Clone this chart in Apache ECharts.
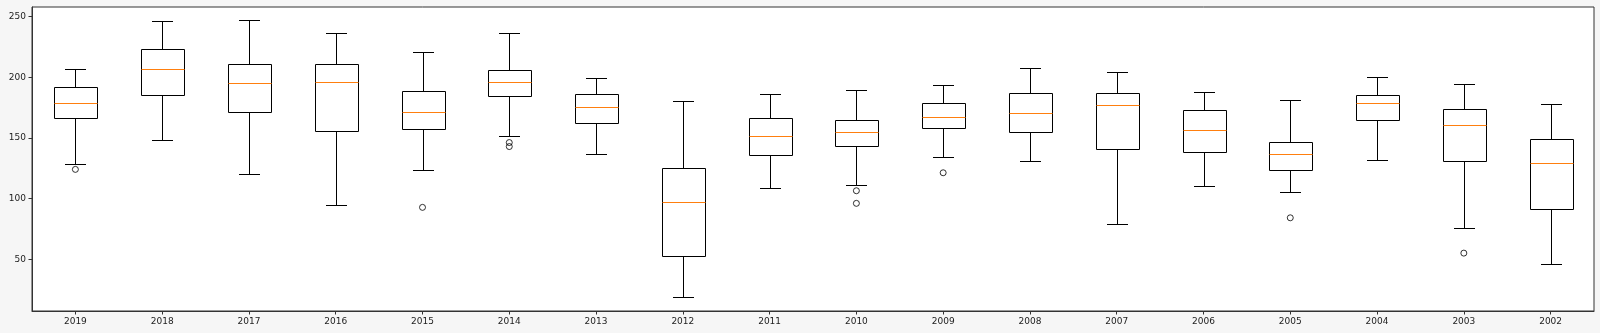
<!DOCTYPE html>
<html>
<head>
<meta charset="utf-8">
<script src="https://cdn.jsdelivr.net/npm/echarts@6/dist/echarts.min.js"></script>
<style>
html,body{margin:0;padding:0;background:#f6f6f6;}
#chart{width:1600px;height:333px;}
</style>
</head>
<body>
<div id="chart"></div>
<script>
const categories = ['2019','2018','2017','2016','2015','2014','2013','2012','2011','2010','2009','2008','2007','2006','2005','2004','2003','2002'];
const whiskerLow  = [128.8,148.1,120.1, 94.6,123.6,151.4,136.6, 19.2,109.1,111.5,134.4,131.3, 79.1,110.7,105.3,132.1, 75.8, 45.9];
const q1          = [166.3,185.2,171.2,155.8,157.4,184.4,162.1, 52.8,136.0,143.2,158.3,155.2,140.7,138.2,123.6,164.6,131.3, 91.3];
const median      = [179.1,206.9,195.4,196.2,171.2,195.9,175.3, 97.5,151.4,155.2,167.6,170.6,177.5,156.9,136.6,179.1,160.7,129.2];
const q3          = [191.8,223.6,211.3,210.8,188.5,206.3,186.5,125.0,166.8,164.6,178.9,187.4,187.4,172.9,146.5,185.7,174.2,148.9];
const whiskerHigh = [206.6,246.7,247.3,236.6,220.7,236.6,199.7,180.5,186.5,189.8,193.5,207.5,204.4,188.2,181.3,200.3,194.3,178.0];
const outlierCats = ['2019','2015','2014','2014','2010','2010','2009','2005','2003'];
const outlierVals = [124.2, 92.9, 146.3, 143.0, 106.6, 96.2, 121.4, 84.3, 55.2];
const yTicks = [50,100,150,200,250];

const boxData = categories.map((c, i) => [i, whiskerLow[i], q1[i], median[i], q3[i], whiskerHigh[i]]);
const outlierData = outlierCats.map((c, i) => [categories.indexOf(c), outlierVals[i]]);

const chart = echarts.init(document.getElementById('chart'), null, {renderer: 'canvas'});
const txt = {fontFamily: 'DejaVu Sans', fontSize: 9, color: '#222'};

function px(v){ return Math.round(v) + 0.5; }

chart.setOption({
  backgroundColor: '#f6f6f6',
  animation: false,
  grid: {left: 32, right: 6, top: 7, bottom: 22, show: true, backgroundColor: '#ffffff', borderColor: '#333', borderWidth: 1},
  xAxis: {
    type: 'category', data: categories, boundaryGap: true,
    axisLine: {show: true, onZero: false, lineStyle: {color: '#333', width: 1}},
    axisTick: {show: true, alignWithLabel: true, length: 3.5, lineStyle: {color: '#333'}},
    axisLabel: Object.assign({margin: 6, interval: 0}, txt),
    splitLine: {show: false}
  },
  yAxis: {
    type: 'value', min: 7.5, max: 258,
    axisLine: {show: true, lineStyle: {color: '#333', width: 1}},
    axisTick: {show: true, length: 3.5, customValues: yTicks, lineStyle: {color: '#333'}},
    axisLabel: Object.assign({margin: 6, customValues: yTicks}, txt),
    splitLine: {show: false}
  },
  series: [
    {
      type: 'custom',
      data: boxData,
      encode: {x: 0, y: [1, 2, 3, 4, 5]},
      z: 3,
      renderItem: function (params, api) {
        const i = api.value(0);
        const pLow = api.coord([i, api.value(1)]);
        const pQ1 = api.coord([i, api.value(2)]);
        const pMed = api.coord([i, api.value(3)]);
        const pQ3 = api.coord([i, api.value(4)]);
        const pHigh = api.coord([i, api.value(5)]);
        const band = api.size([1, 0])[0];
        const bw = band * 0.5;
        const cx = px(pQ1[0]);
        const half = bw / 2, capHalf = bw / 4;
        const ls = {stroke: '#000', lineWidth: 1, fill: null};
        const yLow = px(pLow[1]), yQ1 = px(pQ1[1]), yMed = px(pMed[1]), yQ3 = px(pQ3[1]), yHigh = px(pHigh[1]);
        const xl = Math.round(cx - half) + 0.5, xr = Math.round(cx + half) + 0.5;
        return {
          type: 'group',
          children: [
            {type: 'line', shape: {x1: cx, y1: yQ1, x2: cx, y2: yLow}, style: ls},
            {type: 'line', shape: {x1: cx, y1: yQ3, x2: cx, y2: yHigh}, style: ls},
            {type: 'line', shape: {x1: Math.round(cx - capHalf), y1: yLow, x2: Math.round(cx + capHalf), y2: yLow}, style: ls},
            {type: 'line', shape: {x1: Math.round(cx - capHalf), y1: yHigh, x2: Math.round(cx + capHalf), y2: yHigh}, style: ls},
            {type: 'rect', shape: {x: xl, y: yQ3, width: xr - xl, height: yQ1 - yQ3}, style: ls},
            {type: 'line', shape: {x1: xl, y1: yMed, x2: xr, y2: yMed}, style: {stroke: '#ff7f0e', lineWidth: 1}}
          ]
        };
      }
    },
    {
      type: 'scatter',
      data: outlierData,
      symbol: 'circle',
      symbolSize: 6,
      z: 4,
      itemStyle: {color: 'rgba(255,255,255,0)', borderColor: '#000', borderWidth: 1}
    }
  ]
});
</script>
</body>
</html>
